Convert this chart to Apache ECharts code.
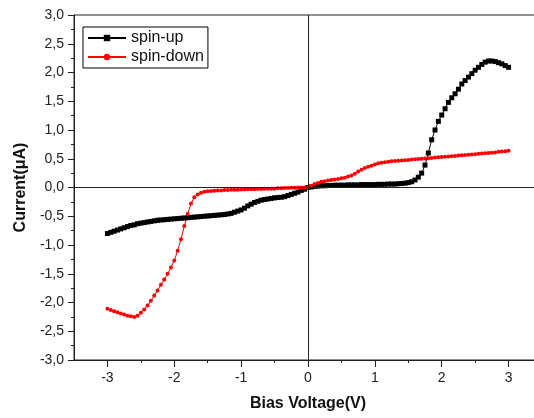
<!DOCTYPE html>
<html>
<head>
<meta charset="utf-8">
<script src="https://cdn.jsdelivr.net/npm/echarts@6/dist/echarts.min.js"></script>
<style>html,body{margin:0;padding:0;background:#fff}#c{width:534px;height:418px}</style>
</head>
<body>
<div id="c"></div>
<script>
// Sampling grid of the bias voltage (V), -3 to 3 in 0.05 V steps
const vStart = -3, vStep = 0.05;
// spin-up current (uA)
const spinUp = [
 -0.80,-0.78,-0.76,-0.74,-0.72,-0.70,-0.68,-0.66,-0.65,-0.63,
 -0.62,-0.61,-0.60,-0.59,-0.58,-0.57,-0.565,-0.56,-0.555,-0.55,
 -0.545,-0.54,-0.535,-0.53,-0.525,-0.52,-0.515,-0.51,-0.505,-0.50,
 -0.495,-0.49,-0.485,-0.48,-0.475,-0.47,-0.46,-0.45,-0.43,-0.41,
 -0.39,-0.36,-0.32,-0.29,-0.26,-0.24,-0.22,-0.21,-0.20,-0.19,
 -0.18,-0.175,-0.17,-0.16,-0.14,-0.12,-0.10,-0.08,-0.05,-0.03,
 0.00,
 0.01,0.02,0.025,0.03,0.03,0.035,0.035,0.04,0.04,0.04,
 0.04,0.045,0.045,0.045,0.045,0.05,0.05,0.05,0.05,0.05,
 0.055,0.055,0.055,0.06,0.06,0.06,0.065,0.07,0.075,0.085,
 0.10,0.13,0.18,0.25,0.39,0.60,0.83,1.00,1.15,1.26,
 1.37,1.48,1.56,1.63,1.71,1.80,1.86,1.92,1.98,2.04,
 2.09,2.14,2.18,2.20,2.20,2.19,2.17,2.15,2.12,2.09
];
// spin-down current (uA)
const spinDown = [
 -2.11,-2.13,-2.15,-2.17,-2.19,-2.21,-2.23,-2.24,-2.25,-2.23,
 -2.18,-2.12,-2.05,-1.97,-1.88,-1.79,-1.69,-1.60,-1.50,-1.39,
 -1.27,-1.10,-0.90,-0.67,-0.46,-0.28,-0.17,-0.12,-0.09,-0.075,
 -0.065,-0.06,-0.055,-0.05,-0.05,-0.045,-0.045,-0.04,-0.04,-0.04,
 -0.035,-0.035,-0.03,-0.03,-0.03,-0.025,-0.025,-0.02,-0.02,-0.02,
 -0.02,-0.015,-0.015,-0.01,-0.01,-0.005,-0.005,0.0,0.0,0.0,
 0.0,
 0.03,0.06,0.08,0.10,0.11,0.12,0.13,0.14,0.15,0.16,
 0.17,0.19,0.21,0.24,0.28,0.31,0.34,0.36,0.38,0.40,
 0.42,0.43,0.44,0.45,0.455,0.46,0.465,0.47,0.475,0.48,
 0.485,0.49,0.495,0.50,0.505,0.51,0.515,0.52,0.525,0.53,
 0.535,0.54,0.545,0.55,0.555,0.56,0.565,0.57,0.575,0.58,
 0.585,0.59,0.595,0.60,0.605,0.61,0.62,0.625,0.63,0.64
];
const xMajorTicks = [-3,-2,-1,0,1,2,3];
const xMinorTicks = [-2.5,-1.5,-0.5,0.5,1.5,2.5];
const seriesNames = ['spin-up','spin-down'];

const pairs = arr => arr.map((y,i) => [+(vStart + i*vStep).toFixed(2), y]);

const font = 'Liberation Sans, Arial, sans-serif';
const axisCol = '#222';
const chart = echarts.init(document.getElementById('c'));
chart.setOption({
  animation: false,
  backgroundColor: '#fff',
  grid: {left: 74, top: 15, width: 468, height: 345, outerBoundsMode: 'none', containLabel: false,
    show: true, borderColor: axisCol, borderWidth: 1},
  legend: {
    left: 83, top: 27, orient: 'vertical', data: seriesNames,
    borderColor: '#000', borderWidth: 1, padding: [3, 4, 3, 4], itemGap: 3,
    itemWidth: 38, itemHeight: 8,
    textStyle: {fontFamily: font, fontSize: 16, color: '#111'}
  },
  xAxis: [{
    type: 'value', min: -3.5, max: 3.5,
    splitLine: {show: false},
    axisLine: {onZero: false, lineStyle: {color: axisCol, width: 1}},
    axisTick: {customValues: xMajorTicks, length: 7, lineStyle: {color: axisCol}},
    axisLabel: {customValues: xMajorTicks, fontFamily: font, fontSize: 14, color: '#222', margin: 11},
    name: 'Bias Voltage(V)', nameLocation: 'middle', nameGap: 36,
    nameTextStyle: {fontFamily: font, fontSize: 16, fontWeight: 'bold', color: '#111'}
  }, {
    type: 'value', min: -3.5, max: 3.5, position: 'bottom',
    splitLine: {show: false},
    axisLine: {show: false, onZero: false},
    axisTick: {customValues: xMinorTicks, length: 3, lineStyle: {color: axisCol}},
    axisLabel: {show: false}
  }],
  yAxis: {
    type: 'value', min: -3, max: 3, interval: 0.5,
    splitLine: {show: false},
    axisLine: {show: true, onZero: false, lineStyle: {color: axisCol, width: 1}},
    axisTick: {show: true, length: 6, lineStyle: {color: axisCol}},
    minorTick: {show: true, splitNumber: 2, length: 3, lineStyle: {color: axisCol}},
    axisLabel: {fontFamily: font, fontSize: 14, color: '#222', margin: 10,
      formatter: v => v.toFixed(1).replace('.', ',')},
    name: 'Current(\u03bcA)', nameLocation: 'middle', nameGap: 45,
    nameTextStyle: {fontFamily: font, fontSize: 16, fontWeight: 'bold', color: '#111'}
  },
  series: [{
    name: seriesNames[0], type: 'line', data: pairs(spinUp),
    symbol: 'rect', symbolSize: 5, showAllSymbol: true,
    itemStyle: {color: '#000'}, lineStyle: {color: '#000', width: 1},
    markLine: {
      silent: true, symbol: 'none', label: {show: false},
      lineStyle: {color: '#222', width: 1, type: 'solid'},
      data: [{xAxis: 0}, {yAxis: 0}]
    }
  }, {
    name: seriesNames[1], type: 'line', data: pairs(spinDown),
    symbol: 'circle', symbolSize: 4, showAllSymbol: true,
    itemStyle: {color: '#ff0000'}, lineStyle: {color: '#ff0000', width: 1}
  }]
});
</script>
</body>
</html>
